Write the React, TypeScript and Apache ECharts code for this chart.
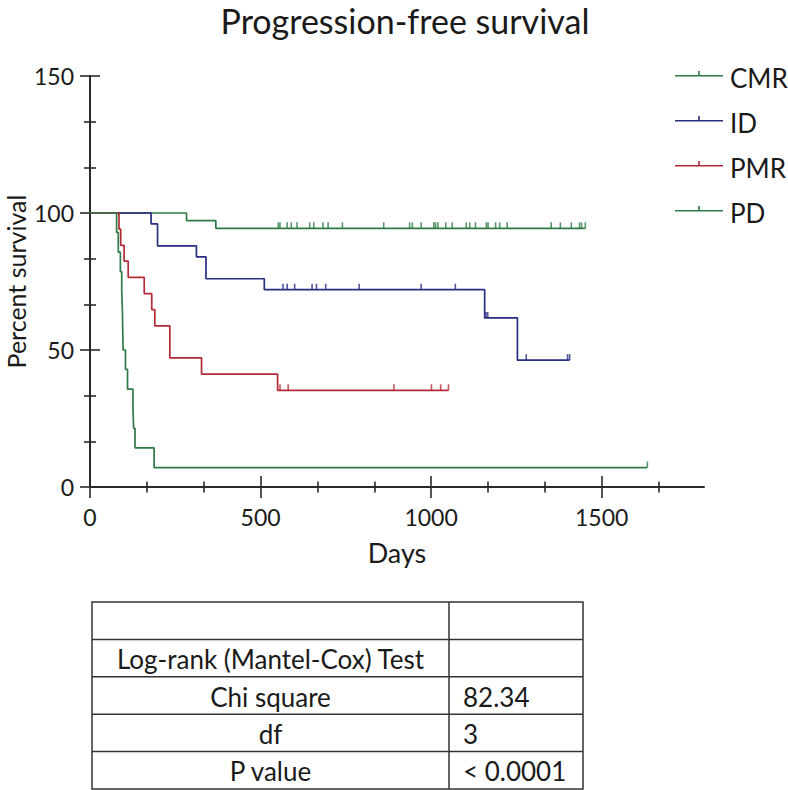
import React, { useEffect, useRef } from "react";
import * as echarts from "echarts";

// ---------- text ----------
const chartTitle = "Progression-free survival";
const xAxisName = "Days";
const yAxisName = "Percent survival";
const xTickValues = [0, 500, 1000, 1500];
const yTickValues = [0, 50, 100, 150];

// ---------- groups ----------
const groupNames = ["CMR", "ID", "PMR", "PD"];
const groupColors = ["#2f7a45", "#272d7f", "#b12a36", "#2f7a45"];

// ---------- Kaplan-Meier data (event days, survival after event, censored days) ----------
const cmrEventDays = [283, 369];
const cmrSurvival = [97.2, 94.4];
const cmrCensorDays = [552, 557, 578, 590, 607, 644, 656, 683, 698, 740, 861, 937, 945, 971, 1008, 1013, 1020, 1043, 1062, 1103, 1113, 1130, 1162, 1167, 1189, 1201, 1223, 1352, 1379, 1411, 1435, 1441, 1452];

const idEventDays = [179, 198, 312, 340, 511, 1157, 1253];
const idSurvival = [96, 88, 84, 76, 72, 61.7, 46.3];
const idCensorDays = [566, 578, 600, 651, 664, 691, 789, 971, 1071, 1161, 1166, 1279, 1400, 1406];

const pmrEventDays = [85, 90, 100, 112, 159, 181, 190, 234, 327, 550];
const pmrSurvival = [94.1, 88.2, 82.4, 76.5, 70.6, 64.7, 58.8, 47.1, 41.2, 35.3];
const pmrCensorDays = [557, 581, 891, 1001, 1028, 1051];

const pdEventDays = [78, 83, 89, 93, 95, 96, 97, 104, 110, 126, 128, 132, 188];
const pdSurvival = [92.9, 85.7, 78.6, 71.4, 64.3, 57.1, 50, 42.9, 35.7, 28.6, 21.4, 14.3, 7.1];
const pdCensorDays = [1634];

// ---------- table ----------
const tableLabels = ["", "Log-rank (Mantel-Cox) Test", "Chi square", "df", "P value"];
const tableValues = ["", "", "82.34", "3", "< 0.0001"];

const FONT = 'Lato, "Open Sans", "Noto Sans", sans-serif';
const INK = "#1a1a1a";
const AXIS = "#2a2a2a";

function survAt(days: number[], surv: number[], t: number) {
  let s = 100;
  for (let i = 0; i < days.length; i++) if (days[i] <= t) s = surv[i];
  return s;
}

function kmCurve(days: number[], surv: number[], censors: number[]) {
  const pts: number[][] = [[0, 100]];
  days.forEach((d, i) => pts.push([d, surv[i]]));
  const end = Math.max(days[days.length - 1], censors[censors.length - 1]);
  pts.push([end, survAt(days, surv, end)]);
  return pts;
}

function censorPts(days: number[], surv: number[], censors: number[]) {
  return censors.map((c) => [c, survAt(days, surv, c)]);
}

const groupData = [
  [cmrEventDays, cmrSurvival, cmrCensorDays],
  [idEventDays, idSurvival, idCensorDays],
  [pmrEventDays, pmrSurvival, pmrCensorDays],
  [pdEventDays, pdSurvival, pdCensorDays],
];

// legend icon: horizontal line with a small upward tick in the middle
const legendIcon =
  "path://M0,4h48v1.6h-48z M23.2,0h1.6v4.4h-1.6z M0,14h0.01v0.01h-0.01z";

export default function App() {
  const ref = useRef<HTMLDivElement>(null);

  useEffect(() => {
    if (!ref.current) return;
    const chart = echarts.init(ref.current, null, { renderer: "svg" });

    const lineSeries = groupNames.map((name, i) => ({
      name,
      type: "line",
      step: "end",
      showSymbol: false,
      symbol: "none",
      data: kmCurve(groupData[i][0], groupData[i][1], groupData[i][2]),
      lineStyle: { color: groupColors[i], width: 1.7 },
      itemStyle: { color: groupColors[i] },
      color: groupColors[i],
      z: 2,
      silent: true,
    }));

    const censorSeries = groupNames.map((name, i) => ({
      name: name + " censored",
      type: "scatter",
      symbol: "rect",
      symbolSize: [1.6, 6],
      symbolOffset: [0, "-50%"],
      data: censorPts(groupData[i][0], groupData[i][1], groupData[i][2]),
      itemStyle: { color: groupColors[i] },
      z: 3,
      silent: true,
    }));

    // table graphics
    const tX = 92, tY = 602, tW = 491, rowH = 37.4, colX = 449;
    const nRows = tableLabels.length;
    const tableEls: any[] = [
      {
        type: "rect",
        shape: { x: tX, y: tY, width: tW, height: rowH * nRows },
        style: { fill: "none", stroke: "#333", lineWidth: 1.5 },
      },
      {
        type: "line",
        shape: { x1: colX, y1: tY, x2: colX, y2: tY + rowH * nRows },
        style: { stroke: "#333", lineWidth: 1.5 },
      },
    ];
    for (let r = 1; r < nRows; r++) {
      tableEls.push({
        type: "line",
        shape: { x1: tX, y1: tY + rowH * r, x2: tX + tW, y2: tY + rowH * r },
        style: { stroke: "#333", lineWidth: 1.5 },
      });
    }
    tableLabels.forEach((t, r) => {
      tableEls.push({
        type: "text",
        x: (tX + colX) / 2,
        y: tY + rowH * r + rowH / 2 + 1,
        style: {
          text: t, fill: INK, font: `26px ${FONT}`,
          textAlign: "center", textVerticalAlign: "middle",
        },
      });
    });
    tableValues.forEach((t, r) => {
      tableEls.push({
        type: "text",
        x: colX + 14,
        y: tY + rowH * r + rowH / 2 + 1,
        style: {
          text: t, fill: INK, font: `26px ${FONT}`,
          textAlign: "left", textVerticalAlign: "middle",
        },
      });
    });

    const baseX = {
      type: "value",
      min: 0,
      max: 1800,
      interval: 500,
      position: "bottom",
      splitLine: { show: false },
      minorSplitLine: { show: false },
    };
    const baseY = {
      type: "value",
      min: 0,
      max: 150,
      interval: 50,
      position: "left",
      splitLine: { show: false },
      minorSplitLine: { show: false },
    };

    chart.setOption({
      animation: false,
      backgroundColor: "#ffffff",
      title: {
        text: chartTitle,
        left: 405,
        top: 3,
        padding: 0,
        textAlign: "center",
        textStyle: { fontFamily: FONT, fontSize: 34, lineHeight: 34, fontWeight: "normal", color: INK },
      },
      legend: {
        orient: "vertical",
        left: 670,
        top: 58,
        itemWidth: 48,
        itemHeight: 14,
        itemGap: 15,
        selectedMode: false,
        itemStyle: { borderWidth: 0 },
        textStyle: { fontFamily: FONT, fontSize: 26, color: INK, lineHeight: 30, padding: [0, 0, 0, 2] },
        data: groupNames.map((n) => ({ name: n, icon: legendIcon })),
      },
      grid: {
        left: 90,
        right: 84,
        top: 76,
        bottom: 303,
        containLabel: false,
        outerBoundsMode: "none",
      },
      xAxis: [
        {
          ...baseX,
          name: xAxisName,
          nameLocation: "middle",
          nameGap: 52,
          nameMoveOverlap: false,
          nameTextStyle: { fontFamily: FONT, fontSize: 27, color: INK },
          axisLine: { show: true, lineStyle: { color: AXIS, width: 2 } },
          axisTick: { show: true, inside: false, length: 11, customValues: xTickValues, lineStyle: { color: AXIS, width: 1.6 } },
          minorTick: { show: true, splitNumber: 3, length: 5.5, lineStyle: { color: AXIS, width: 1.6 } },
          axisLabel: {
            show: true, margin: 18, customValues: xTickValues,
            formatter: (v: number) => String(v),
            fontFamily: FONT, fontSize: 23, color: INK,
          },
        },
        {
          ...baseX,
          axisLine: { show: false },
          axisTick: { show: true, inside: true, length: 11, customValues: xTickValues, lineStyle: { color: AXIS, width: 1.6 } },
          minorTick: { show: true, splitNumber: 3, length: 5.5, lineStyle: { color: AXIS, width: 1.6 } },
          axisLabel: { show: false },
        },
      ],
      yAxis: [
        {
          ...baseY,
          name: yAxisName,
          nameLocation: "middle",
          nameGap: 62,
          nameMoveOverlap: false,
          nameTextStyle: { fontFamily: FONT, fontSize: 25, lineHeight: 25, color: INK },
          axisLine: { show: true, lineStyle: { color: AXIS, width: 2 } },
          axisTick: { show: true, inside: false, length: 10, customValues: yTickValues, lineStyle: { color: AXIS, width: 1.6 } },
          minorTick: { show: true, splitNumber: 3, length: 6, lineStyle: { color: AXIS, width: 1.6 } },
          axisLabel: {
            show: true, margin: 16, customValues: yTickValues,
            formatter: (v: number) => String(v),
            fontFamily: FONT, fontSize: 23, color: INK,
          },
        },
        {
          ...baseY,
          axisLine: { show: false },
          axisTick: { show: true, inside: true, length: 10, customValues: yTickValues, lineStyle: { color: AXIS, width: 1.6 } },
          minorTick: { show: true, splitNumber: 3, length: 6, lineStyle: { color: AXIS, width: 1.6 } },
          axisLabel: { show: false },
        },
      ],
      series: [...lineSeries, ...censorSeries],
      graphic: { elements: tableEls },
    });

    return () => chart.dispose();
  }, []);

  return (
    <div
      ref={ref}
      style={{ position: "fixed", left: 0, top: 0, width: 788, height: 790, background: "#fff" }}
    />
  );
}
